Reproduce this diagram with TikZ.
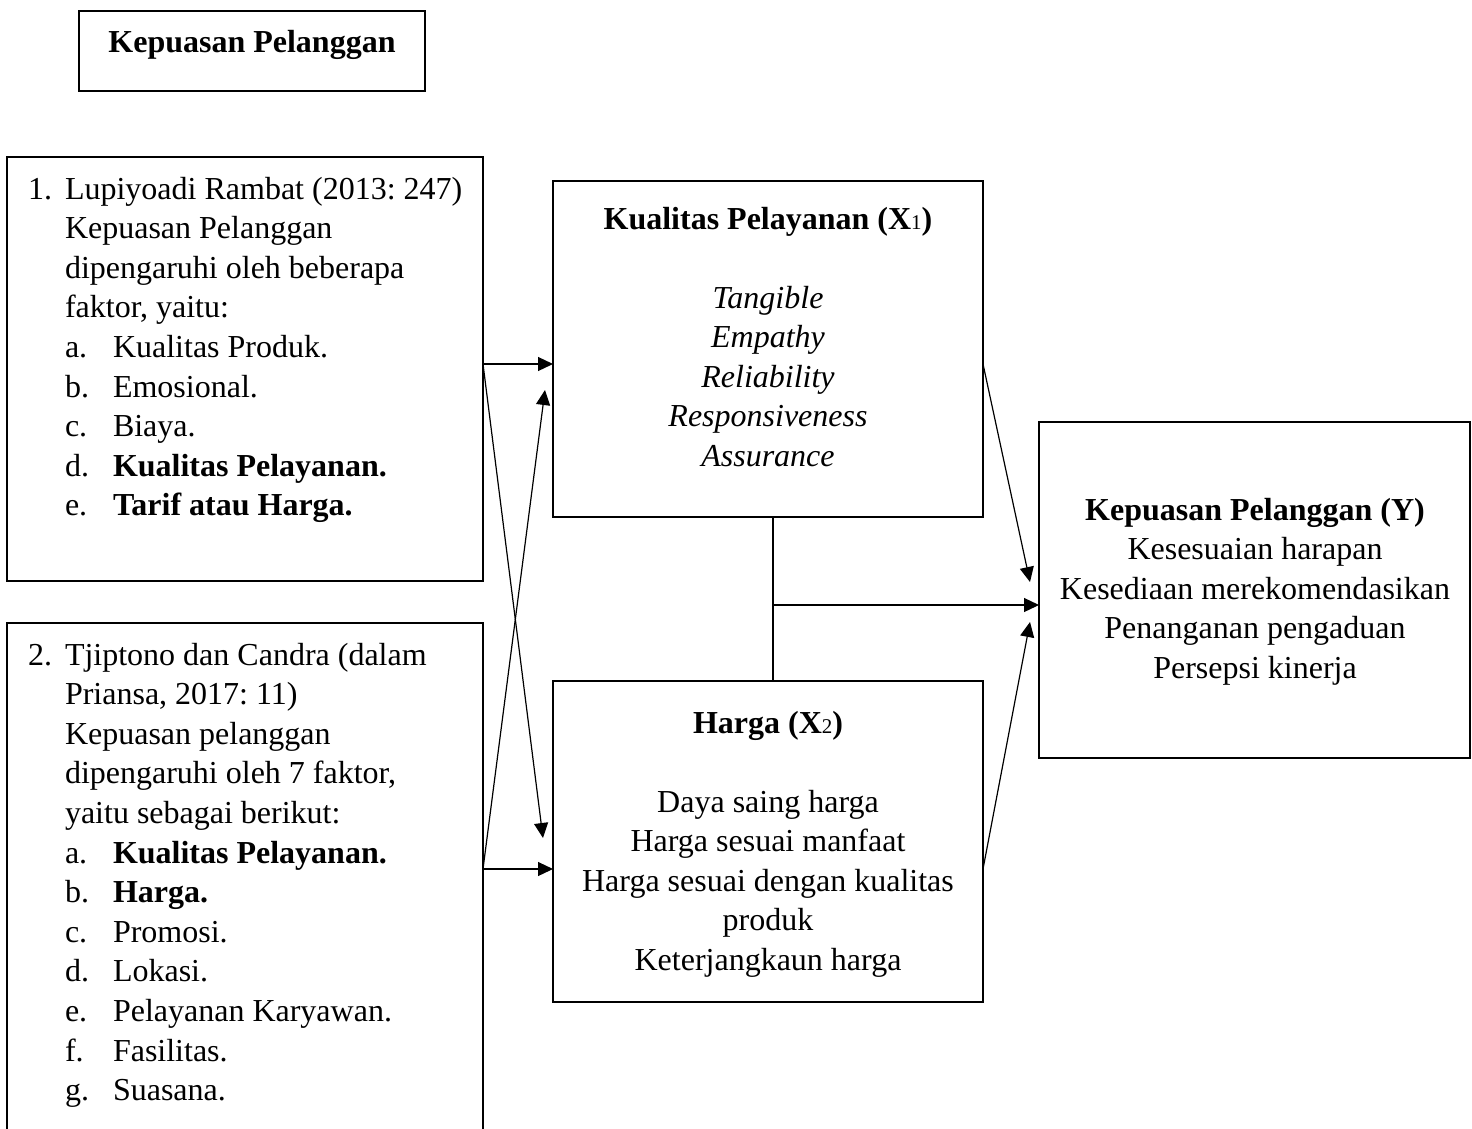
\documentclass[tikz,border=0pt]{standalone}
\usepackage{fontspec}
\setmainfont{Liberation Serif}
\usetikzlibrary{arrows.meta}
\newcommand\mysub[1]{{\fontsize{21}{21}\selectfont\mdseries #1}}
\frenchspacing
\begin{document}
\begin{tikzpicture}[x=1pt,y=-1pt,
  thinbox/.style={draw, line width=1.2pt, inner sep=0pt, outer sep=0pt, anchor=north west},
  thickbox/.style={draw, line width=2.2pt, inner sep=0pt, outer sep=0pt, anchor=north west},
  txt/.style={font=\fontsize{32}{40}\selectfont, inner sep=0pt, outer sep=0pt, anchor=base west},
  ctxt/.style={font=\fontsize{32}{40}\selectfont, inner sep=0pt, outer sep=0pt, anchor=base},
  conn/.style={line width=1.2pt, -{Triangle[length=15pt,width=14pt]}},
  plainline/.style={line width=1.2pt}]
\clip (0,0) rectangle (1472,1128);
\fill[white] (0,0) rectangle (1472,1128);

% boxes
\node[thinbox, minimum width=346pt, minimum height=80pt] (top) at (79,11) {};
\node[thinbox, minimum width=476pt, minimum height=424pt] (B1) at (7,157) {};
\node[thinbox, minimum width=476pt, minimum height=530pt] (B2) at (7,623) {};
\node[thickbox, minimum width=430pt, minimum height=336pt] (X1) at (553,181) {};
\node[thickbox, minimum width=430pt, minimum height=321pt] (X2) at (553,681) {};
\node[thickbox, minimum width=431pt, minimum height=336pt] (Y) at (1039,422) {};

% top box text
\node[ctxt] (toptxt) at (252,52) {\textbf{Kepuasan Pelanggan}};

% box 1 text
\node[txt] (b1n) at (28,199) {1.};
\foreach \t [count=\i from 0] in {Lupiyoadi Rambat (2013: 247), Kepuasan Pelanggan, dipengaruhi oleh beberapa, {faktor, yaitu:}}
  \node[txt] (b1t\i) at (65,{199+39.6*\i}) {\t};
\foreach \l/\t [count=\i from 4] in {a./Kualitas Produk., b./Emosional., c./Biaya., d./\textbf{Kualitas Pelayanan.}, e./\textbf{Tarif atau Harga.}}
  {\node[txt] (b1l\i) at (65,{199+39.6*\i}) {\l};
   \node[txt] (b1t\i) at (113,{199+39.6*\i}) {\t};}

% box 2 text
\node[txt] (b2n) at (28,665) {2.};
\foreach \t [count=\i from 0] in {Tjiptono dan Candra (dalam, {Priansa, 2017: 11)}, Kepuasan pelanggan, {dipengaruhi oleh 7 faktor,}, yaitu sebagai berikut:}
  \node[txt] (b2t\i) at (65,{665+39.6*\i}) {\t};
\foreach \l/\t [count=\i from 5] in {a./\textbf{Kualitas Pelayanan.}, b./\textbf{Harga.}, c./Promosi., d./Lokasi., e./Pelayanan Karyawan., f./Fasilitas., g./Suasana.}
  {\node[txt] (b2l\i) at (65,{665+39.6*\i}) {\l};
   \node[txt] (b2t\i) at (113,{665+39.6*\i}) {\t};}

% X1 text
\node[ctxt] (x1title) at (768,229) {\textbf{Kualitas Pelayanan (X\mysub{1})}};
\foreach \t [count=\i from 0] in {Tangible, Empathy, Reliability, Responsiveness, Assurance}
  \node[ctxt] (x1t\i) at (768,{308+39.6*\i}) {\itshape \t};

% X2 text
\node[ctxt] (x2title) at (768,733) {\textbf{Harga (X\mysub{2})}};
\foreach \t [count=\i from 0] in {Daya saing harga, Harga sesuai manfaat, Harga sesuai dengan kualitas, produk, Keterjangkaun harga}
  \node[ctxt] (x2t\i) at (768,{812+39.6*\i}) {\t};

% Y text
\node[ctxt] (ytitle) at (1255,520) {\textbf{Kepuasan Pelanggan (Y)}};
\foreach \t [count=\i from 1] in {Kesesuaian harapan, Kesediaan merekomendasikan, Penanganan pengaduan, Persepsi kinerja}
  \node[ctxt] (yt\i) at (1255,{520+39.6*\i}) {\t};

% connectors
\coordinate (s1) at (483,364);
\coordinate (s2) at (483,869);
\coordinate (e1) at (545,390);
\coordinate (e2) at (543,838);
\draw[conn] (s1) -- (s1 -| X1.west);
\draw[conn] (s2) -- (s2 -| X2.west);
\draw[conn] (s1) -- (e2);
\draw[conn] (s2) -- (e1);

\coordinate (r1) at (983,364);
\coordinate (r2) at (983,869);
\coordinate (t1) at (1030,582);
\coordinate (t2) at (1030,622);
\draw[conn] (r1) -- (t1);
\draw[conn] (r2) -- (t2);

\coordinate (m) at (773,605);
\draw[plainline] (X1.south -| m) -- (X2.north -| m);
\draw[conn] (m) -- (m -| Y.west);
\end{tikzpicture}
\end{document}
